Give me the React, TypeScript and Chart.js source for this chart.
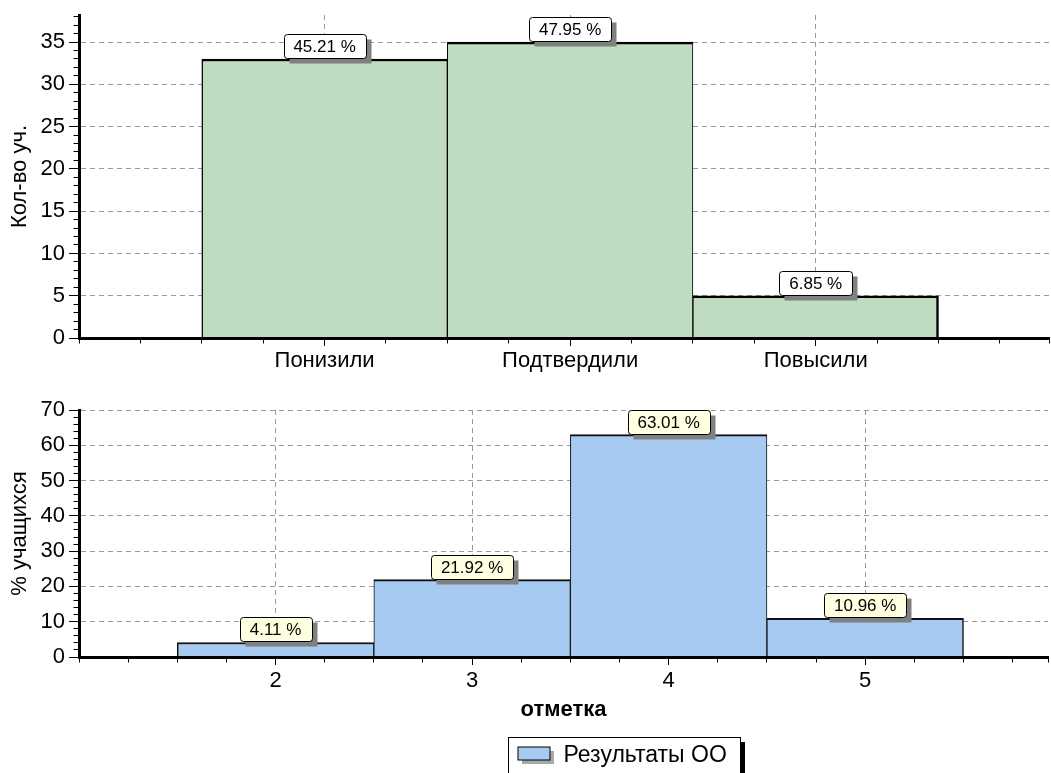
import React, { useEffect, useRef } from 'react';
import { Chart, registerables } from 'chart.js';

Chart.register(...registerables);

// ---- data ----
const changeCategories = ['Понизили', 'Подтвердили', 'Повысили'];
const changeCounts = [33, 35, 5];
const changePercentLabels = ['45.21 %', '47.95 %', '6.85 %'];

const marks = [2, 3, 4, 5];
const markPercents = [4.11, 21.92, 63.01, 10.96];
const markPercentLabels = ['4.11 %', '21.92 %', '63.01 %', '10.96 %'];

const topYTitle = 'Кол-во уч.';
const bottomYTitle = '% учащихся';
const bottomXTitle = 'отметка';
const legendLabel = 'Результаты ОО';

// ---- style ----
const FONT = '"Liberation Sans", Arial, sans-serif';
const GRID = '#9a9a9a';
const CLEAR = 'rgba(0,0,0,0)';
const GREEN = '#c0dcc0';
const BLUE = '#a6caf0';
const X_STEP = 0.25;
const TICK_SIZE = 22;

const tv = (c: any): number | null => (c && c.tick && typeof c.tick.value === 'number' ? c.tick.value : null);

// one category wide, measured through the x scale
const unitWidth = (c: any) => {
  const s = c.chart.scales.x;
  if (!s) return undefined;
  return Math.abs(s.getPixelForValue(1) - s.getPixelForValue(0));
};

function valueBoxPlugin(labels: string[], fill: string) {
  return {
    id: 'valueBoxes',
    afterDatasetsDraw(chart: any) {
      const ctx = chart.ctx as CanvasRenderingContext2D;
      const meta = chart.getDatasetMeta(0);
      ctx.save();
      ctx.font = `17px ${FONT}`;
      meta.data.forEach((el: any, i: number) => {
        const text = labels[i];
        const tw = ctx.measureText(text).width;
        const w = Math.round(tw + 20);
        const h = 24;
        const x = Math.round(el.x - w / 2) + 0.5;
        const y = Math.round(el.y - h) - 0.5;
        ctx.fillStyle = '#808080';
        ctx.fillRect(x + 5, y + 5, w, h);
        ctx.beginPath();
        (ctx as any).roundRect(x, y, w, h, 3);
        ctx.fillStyle = fill;
        ctx.fill();
        ctx.strokeStyle = '#000';
        ctx.lineWidth = 1;
        ctx.stroke();
        ctx.fillStyle = '#000';
        ctx.textAlign = 'center';
        ctx.textBaseline = 'middle';
        ctx.fillText(text, el.x, y + h / 2 + 1);
      });
      ctx.restore();
    },
  };
}

const legendBoxPlugin = {
  id: 'legendBox',
  afterDraw(chart: any) {
    const ctx = chart.ctx as CanvasRenderingContext2D;
    const { chartArea } = chart;
    const ds = chart.data.datasets[0];
    ctx.save();
    ctx.font = `23px ${FONT}`;
    const tw = ctx.measureText(ds.label).width;
    const w = Math.round(10 + 32 + 13 + tw + 14);
    const cx = (chartArea.left + chartArea.right) / 2 + 60;
    const left = Math.round(cx - w / 2) + 0.5;
    const top = Math.round(chartArea.bottom + 80) + 0.5;
    const h = 60;
    ctx.fillStyle = '#fff';
    ctx.fillRect(left, top, w, h);
    ctx.strokeStyle = '#000';
    ctx.lineWidth = 1;
    ctx.strokeRect(left, top, w, h);
    ctx.fillStyle = '#000';
    ctx.fillRect(left + w + 0.5, top + 4.5, 4, h);
    // swatch
    ctx.fillStyle = '#a8a8a8';
    ctx.fillRect(left + 9.5 + 4, top + 9.5 + 4, 32, 13);
    ctx.fillStyle = ds.backgroundColor;
    ctx.fillRect(left + 9.5, top + 9.5, 32, 13);
    ctx.strokeStyle = '#000';
    ctx.strokeRect(left + 9.5, top + 9.5, 32, 13);
    ctx.fillStyle = '#000';
    ctx.textAlign = 'left';
    ctx.textBaseline = 'middle';
    ctx.fillText(ds.label, left + 55, top + 18);
    ctx.restore();
  },
};

function xScale(min: number, max: number, centers: number[], labelOf: (v: number) => string, height: number, title?: any, pad = 3) {
  const isCenter = (v: number | null) => v !== null && centers.includes(v);
  return {
    type: 'linear',
    min,
    max,
    bounds: 'data',
    offset: false,
    afterFit: (s: any) => {
      s.height = height;
    },
    grid: {
      offset: false,
      color: (c: any) => (isCenter(tv(c)) ? GRID : CLEAR),
      lineWidth: 1,
      tickLength: 8,
      tickColor: '#000',
      tickWidth: 1,
      tickBorderDash: (c: any) => (tv(c) === null || isCenter(tv(c)) ? [] : [3.5, 20]),
    },
    border: { display: true, color: '#000', width: 3, dash: [5, 4], z: 1 },
    ticks: {
      stepSize: X_STEP,
      autoSkip: false,
      includeBounds: false,
      maxRotation: 0,
      minRotation: 0,
      padding: pad,
      color: '#000',
      font: { size: TICK_SIZE, family: FONT },
      callback: (v: number) => (isCenter(v) ? labelOf(v) : ''),
    },
    title: title || { display: false },
  };
}

function yScale(max: number, step: number, major: number, titleText: string, pad: number) {
  const isMajor = (v: number | null) => v !== null && v % major === 0;
  return {
    type: 'linear',
    min: 0,
    max,
    bounds: 'data',
    afterFit: (s: any) => {
      s.width = 79;
    },
    grid: {
      color: (c: any) => {
        const v = tv(c);
        return v !== null && v > 0 && isMajor(v) ? GRID : CLEAR;
      },
      lineWidth: 1,
      tickLength: 10,
      tickColor: '#000',
      tickWidth: 1,
      tickBorderDash: (c: any) => (tv(c) === null || isMajor(tv(c)) ? [] : [0, 4.5, 10]),
    },
    border: { display: true, color: '#000', width: 3, dash: [5, 4], z: 1 },
    ticks: {
      stepSize: step,
      autoSkip: false,
      includeBounds: false,
      padding: pad,
      color: '#000',
      font: { size: TICK_SIZE, family: FONT, lineHeight: 1 },
      callback: (v: number) => (v % major === 0 ? String(v) : ''),
    },
    title: {
      display: true,
      text: titleText,
      color: '#000',
      font: { size: 22, family: FONT },
      padding: { top: 7, bottom: 0 },
    },
  };
}

export default function App() {
  const topRef = useRef<HTMLCanvasElement>(null);
  const botRef = useRef<HTMLCanvasElement>(null);

  useEffect(() => {
    const lastTop = changeCounts.length - 1;
    const topChart = new Chart(topRef.current as HTMLCanvasElement, {
      type: 'bar',
      data: {
        datasets: [
          {
            label: topYTitle,
            data: changeCounts.map((v, i) => ({ x: i, y: v })),
            backgroundColor: GREEN,
            borderColor: '#000',
            borderWidth: (c: any) => ({
              top: 2.5,
              bottom: 0,
              left: c.dataIndex === 0 ? 1.5 : 1,
              right: c.dataIndex === lastTop ? 2.5 : 1,
            }),
            borderSkipped: 'start',
            barThickness: unitWidth,
          } as any,
        ],
      },
      options: {
        responsive: false,
        animation: false,
        devicePixelRatio: 1,
        layout: { padding: { top: 13, left: 0, right: 0, bottom: 0 } },
        plugins: { legend: { display: false }, tooltip: { enabled: false } },
        scales: {
          x: xScale(-1, 2.95, [0, 1, 2], (v) => changeCategories[v], 47, undefined, 2),
          y: yScale(38.2, 1, 5, topYTitle, 4),
        } as any,
      },
      plugins: [valueBoxPlugin(changePercentLabels, '#ffffff')],
    });

    const lastBot = markPercents.length - 1;
    const botChart = new Chart(botRef.current as HTMLCanvasElement, {
      type: 'bar',
      data: {
        datasets: [
          {
            label: legendLabel,
            data: markPercents.map((v, i) => ({ x: marks[i], y: v })),
            backgroundColor: BLUE,
            borderColor: '#111111',
            borderWidth: (c: any) => ({
              top: 2,
              bottom: 0,
              left: c.dataIndex === 0 ? 1.5 : 1,
              right: c.dataIndex === lastBot ? 1.5 : 1,
            }),
            borderSkipped: 'start',
            barThickness: unitWidth,
          } as any,
        ],
      },
      options: {
        responsive: false,
        animation: false,
        devicePixelRatio: 1,
        layout: { padding: { top: 25, left: 0, right: 0, bottom: 0 } },
        plugins: { legend: { display: false }, tooltip: { enabled: false } },
        scales: {
          x: xScale(
            1,
            5.93,
            marks,
            (v) => String(v),
            116,
            {
              display: true,
              text: bottomXTitle,
              color: '#000',
              font: { size: 22, weight: 'bold', family: FONT },
              padding: { top: 0, bottom: 50 },
            },
            3
          ),
          y: yScale(70, 2, 10, bottomYTitle, 4),
        } as any,
      },
      plugins: [valueBoxPlugin(markPercentLabels, '#ffffe1'), legendBoxPlugin],
    });

    return () => {
      topChart.destroy();
      botChart.destroy();
    };
  }, []);

  return (
    <div
      style={{
        position: 'absolute',
        left: 0,
        top: 0,
        width: 1051,
        height: 773,
        background: '#fff',
        overflow: 'hidden',
      }}
    >
      <canvas
        ref={topRef}
        width={1051}
        height={385}
        style={{ position: 'absolute', left: 0, top: 0, width: 1051, height: 385, display: 'block' }}
      />
      <canvas
        ref={botRef}
        width={1051}
        height={388}
        style={{ position: 'absolute', left: 0, top: 385, width: 1051, height: 388, display: 'block' }}
      />
    </div>
  );
}
